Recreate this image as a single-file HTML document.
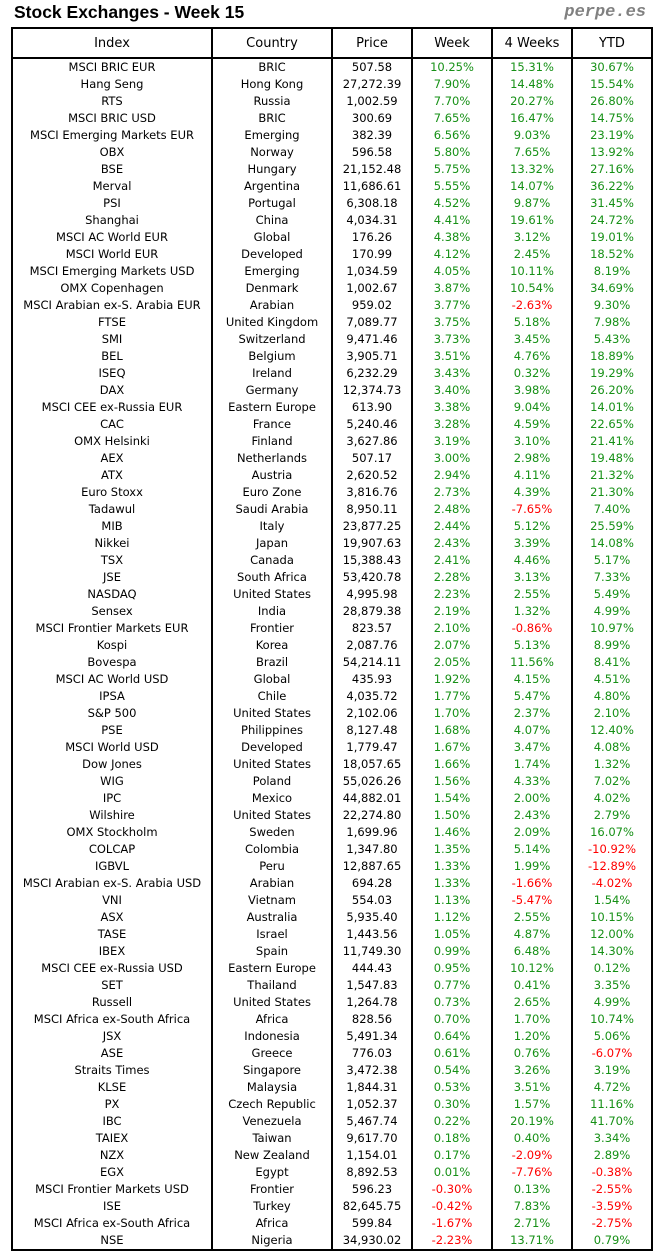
<!DOCTYPE html>
<html><head><meta charset="utf-8"><style>
body{margin:0;width:664px;height:1260px;background:#fff;font-family:"DejaVu Sans","Liberation Sans",sans-serif;position:relative;overflow:hidden}
.t{position:absolute;left:14px;top:2px;font-size:17.5px;font-weight:bold;font-family:"Liberation Sans",sans-serif;color:#000}
.p{position:absolute;right:18px;top:3px;font-size:17px;font-weight:bold;font-style:italic;font-family:"Liberation Mono",monospace;color:#808080}
table{position:absolute;left:11px;top:27px;border-collapse:collapse;border:2px solid #000;font-size:11.5px;table-layout:fixed}
td,th{padding:0;text-align:center;border-left:2px solid #000;border-right:2px solid #000;height:17px;line-height:17px;white-space:nowrap;overflow:hidden;color:#000}
th{font-weight:normal;font-size:13px;height:28px;border-bottom:2px solid #000}
td:nth-child(n+4){color:#169016}
td.n{color:#ff0000!important}
</style></head><body>
<div class="t">Stock Exchanges - Week 15</div>
<div class="p">perpe.es</div>
<table>
<colgroup><col style="width:200px"><col style="width:120px"><col style="width:80px"><col style="width:80px"><col style="width:80px"><col style="width:80px"></colgroup>
<tr><th>Index</th><th>Country</th><th>Price</th><th>Week</th><th>4 Weeks</th><th>YTD</th></tr>
<tr><td>MSCI BRIC EUR</td><td>BRIC</td><td>507.58</td><td>10.25%</td><td>15.31%</td><td>30.67%</td></tr>
<tr><td>Hang Seng</td><td>Hong Kong</td><td>27,272.39</td><td>7.90%</td><td>14.48%</td><td>15.54%</td></tr>
<tr><td>RTS</td><td>Russia</td><td>1,002.59</td><td>7.70%</td><td>20.27%</td><td>26.80%</td></tr>
<tr><td>MSCI BRIC USD</td><td>BRIC</td><td>300.69</td><td>7.65%</td><td>16.47%</td><td>14.75%</td></tr>
<tr><td>MSCI Emerging Markets EUR</td><td>Emerging</td><td>382.39</td><td>6.56%</td><td>9.03%</td><td>23.19%</td></tr>
<tr><td>OBX</td><td>Norway</td><td>596.58</td><td>5.80%</td><td>7.65%</td><td>13.92%</td></tr>
<tr><td>BSE</td><td>Hungary</td><td>21,152.48</td><td>5.75%</td><td>13.32%</td><td>27.16%</td></tr>
<tr><td>Merval</td><td>Argentina</td><td>11,686.61</td><td>5.55%</td><td>14.07%</td><td>36.22%</td></tr>
<tr><td>PSI</td><td>Portugal</td><td>6,308.18</td><td>4.52%</td><td>9.87%</td><td>31.45%</td></tr>
<tr><td>Shanghai</td><td>China</td><td>4,034.31</td><td>4.41%</td><td>19.61%</td><td>24.72%</td></tr>
<tr><td>MSCI AC World EUR</td><td>Global</td><td>176.26</td><td>4.38%</td><td>3.12%</td><td>19.01%</td></tr>
<tr><td>MSCI World EUR</td><td>Developed</td><td>170.99</td><td>4.12%</td><td>2.45%</td><td>18.52%</td></tr>
<tr><td>MSCI Emerging Markets USD</td><td>Emerging</td><td>1,034.59</td><td>4.05%</td><td>10.11%</td><td>8.19%</td></tr>
<tr><td>OMX Copenhagen</td><td>Denmark</td><td>1,002.67</td><td>3.87%</td><td>10.54%</td><td>34.69%</td></tr>
<tr><td>MSCI Arabian ex-S. Arabia EUR</td><td>Arabian</td><td>959.02</td><td>3.77%</td><td class="n">-2.63%</td><td>9.30%</td></tr>
<tr><td>FTSE</td><td>United Kingdom</td><td>7,089.77</td><td>3.75%</td><td>5.18%</td><td>7.98%</td></tr>
<tr><td>SMI</td><td>Switzerland</td><td>9,471.46</td><td>3.73%</td><td>3.45%</td><td>5.43%</td></tr>
<tr><td>BEL</td><td>Belgium</td><td>3,905.71</td><td>3.51%</td><td>4.76%</td><td>18.89%</td></tr>
<tr><td>ISEQ</td><td>Ireland</td><td>6,232.29</td><td>3.43%</td><td>0.32%</td><td>19.29%</td></tr>
<tr><td>DAX</td><td>Germany</td><td>12,374.73</td><td>3.40%</td><td>3.98%</td><td>26.20%</td></tr>
<tr><td>MSCI CEE ex-Russia EUR</td><td>Eastern Europe</td><td>613.90</td><td>3.38%</td><td>9.04%</td><td>14.01%</td></tr>
<tr><td>CAC</td><td>France</td><td>5,240.46</td><td>3.28%</td><td>4.59%</td><td>22.65%</td></tr>
<tr><td>OMX Helsinki</td><td>Finland</td><td>3,627.86</td><td>3.19%</td><td>3.10%</td><td>21.41%</td></tr>
<tr><td>AEX</td><td>Netherlands</td><td>507.17</td><td>3.00%</td><td>2.98%</td><td>19.48%</td></tr>
<tr><td>ATX</td><td>Austria</td><td>2,620.52</td><td>2.94%</td><td>4.11%</td><td>21.32%</td></tr>
<tr><td>Euro Stoxx</td><td>Euro Zone</td><td>3,816.76</td><td>2.73%</td><td>4.39%</td><td>21.30%</td></tr>
<tr><td>Tadawul</td><td>Saudi Arabia</td><td>8,950.11</td><td>2.48%</td><td class="n">-7.65%</td><td>7.40%</td></tr>
<tr><td>MIB</td><td>Italy</td><td>23,877.25</td><td>2.44%</td><td>5.12%</td><td>25.59%</td></tr>
<tr><td>Nikkei</td><td>Japan</td><td>19,907.63</td><td>2.43%</td><td>3.39%</td><td>14.08%</td></tr>
<tr><td>TSX</td><td>Canada</td><td>15,388.43</td><td>2.41%</td><td>4.46%</td><td>5.17%</td></tr>
<tr><td>JSE</td><td>South Africa</td><td>53,420.78</td><td>2.28%</td><td>3.13%</td><td>7.33%</td></tr>
<tr><td>NASDAQ</td><td>United States</td><td>4,995.98</td><td>2.23%</td><td>2.55%</td><td>5.49%</td></tr>
<tr><td>Sensex</td><td>India</td><td>28,879.38</td><td>2.19%</td><td>1.32%</td><td>4.99%</td></tr>
<tr><td>MSCI Frontier Markets EUR</td><td>Frontier</td><td>823.57</td><td>2.10%</td><td class="n">-0.86%</td><td>10.97%</td></tr>
<tr><td>Kospi</td><td>Korea</td><td>2,087.76</td><td>2.07%</td><td>5.13%</td><td>8.99%</td></tr>
<tr><td>Bovespa</td><td>Brazil</td><td>54,214.11</td><td>2.05%</td><td>11.56%</td><td>8.41%</td></tr>
<tr><td>MSCI AC World USD</td><td>Global</td><td>435.93</td><td>1.92%</td><td>4.15%</td><td>4.51%</td></tr>
<tr><td>IPSA</td><td>Chile</td><td>4,035.72</td><td>1.77%</td><td>5.47%</td><td>4.80%</td></tr>
<tr><td>S&amp;P 500</td><td>United States</td><td>2,102.06</td><td>1.70%</td><td>2.37%</td><td>2.10%</td></tr>
<tr><td>PSE</td><td>Philippines</td><td>8,127.48</td><td>1.68%</td><td>4.07%</td><td>12.40%</td></tr>
<tr><td>MSCI World USD</td><td>Developed</td><td>1,779.47</td><td>1.67%</td><td>3.47%</td><td>4.08%</td></tr>
<tr><td>Dow Jones</td><td>United States</td><td>18,057.65</td><td>1.66%</td><td>1.74%</td><td>1.32%</td></tr>
<tr><td>WIG</td><td>Poland</td><td>55,026.26</td><td>1.56%</td><td>4.33%</td><td>7.02%</td></tr>
<tr><td>IPC</td><td>Mexico</td><td>44,882.01</td><td>1.54%</td><td>2.00%</td><td>4.02%</td></tr>
<tr><td>Wilshire</td><td>United States</td><td>22,274.80</td><td>1.50%</td><td>2.43%</td><td>2.79%</td></tr>
<tr><td>OMX Stockholm</td><td>Sweden</td><td>1,699.96</td><td>1.46%</td><td>2.09%</td><td>16.07%</td></tr>
<tr><td>COLCAP</td><td>Colombia</td><td>1,347.80</td><td>1.35%</td><td>5.14%</td><td class="n">-10.92%</td></tr>
<tr><td>IGBVL</td><td>Peru</td><td>12,887.65</td><td>1.33%</td><td>1.99%</td><td class="n">-12.89%</td></tr>
<tr><td>MSCI Arabian ex-S. Arabia USD</td><td>Arabian</td><td>694.28</td><td>1.33%</td><td class="n">-1.66%</td><td class="n">-4.02%</td></tr>
<tr><td>VNI</td><td>Vietnam</td><td>554.03</td><td>1.13%</td><td class="n">-5.47%</td><td>1.54%</td></tr>
<tr><td>ASX</td><td>Australia</td><td>5,935.40</td><td>1.12%</td><td>2.55%</td><td>10.15%</td></tr>
<tr><td>TASE</td><td>Israel</td><td>1,443.56</td><td>1.05%</td><td>4.87%</td><td>12.00%</td></tr>
<tr><td>IBEX</td><td>Spain</td><td>11,749.30</td><td>0.99%</td><td>6.48%</td><td>14.30%</td></tr>
<tr><td>MSCI CEE ex-Russia USD</td><td>Eastern Europe</td><td>444.43</td><td>0.95%</td><td>10.12%</td><td>0.12%</td></tr>
<tr><td>SET</td><td>Thailand</td><td>1,547.83</td><td>0.77%</td><td>0.41%</td><td>3.35%</td></tr>
<tr><td>Russell</td><td>United States</td><td>1,264.78</td><td>0.73%</td><td>2.65%</td><td>4.99%</td></tr>
<tr><td>MSCI Africa ex-South Africa</td><td>Africa</td><td>828.56</td><td>0.70%</td><td>1.70%</td><td>10.74%</td></tr>
<tr><td>JSX</td><td>Indonesia</td><td>5,491.34</td><td>0.64%</td><td>1.20%</td><td>5.06%</td></tr>
<tr><td>ASE</td><td>Greece</td><td>776.03</td><td>0.61%</td><td>0.76%</td><td class="n">-6.07%</td></tr>
<tr><td>Straits Times</td><td>Singapore</td><td>3,472.38</td><td>0.54%</td><td>3.26%</td><td>3.19%</td></tr>
<tr><td>KLSE</td><td>Malaysia</td><td>1,844.31</td><td>0.53%</td><td>3.51%</td><td>4.72%</td></tr>
<tr><td>PX</td><td>Czech Republic</td><td>1,052.37</td><td>0.30%</td><td>1.57%</td><td>11.16%</td></tr>
<tr><td>IBC</td><td>Venezuela</td><td>5,467.74</td><td>0.22%</td><td>20.19%</td><td>41.70%</td></tr>
<tr><td>TAIEX</td><td>Taiwan</td><td>9,617.70</td><td>0.18%</td><td>0.40%</td><td>3.34%</td></tr>
<tr><td>NZX</td><td>New Zealand</td><td>1,154.01</td><td>0.17%</td><td class="n">-2.09%</td><td>2.89%</td></tr>
<tr><td>EGX</td><td>Egypt</td><td>8,892.53</td><td>0.01%</td><td class="n">-7.76%</td><td class="n">-0.38%</td></tr>
<tr><td>MSCI Frontier Markets USD</td><td>Frontier</td><td>596.23</td><td class="n">-0.30%</td><td>0.13%</td><td class="n">-2.55%</td></tr>
<tr><td>ISE</td><td>Turkey</td><td>82,645.75</td><td class="n">-0.42%</td><td>7.83%</td><td class="n">-3.59%</td></tr>
<tr><td>MSCI Africa ex-South Africa</td><td>Africa</td><td>599.84</td><td class="n">-1.67%</td><td>2.71%</td><td class="n">-2.75%</td></tr>
<tr><td>NSE</td><td>Nigeria</td><td>34,930.02</td><td class="n">-2.23%</td><td>13.71%</td><td>0.79%</td></tr>
</table>
</body></html>
